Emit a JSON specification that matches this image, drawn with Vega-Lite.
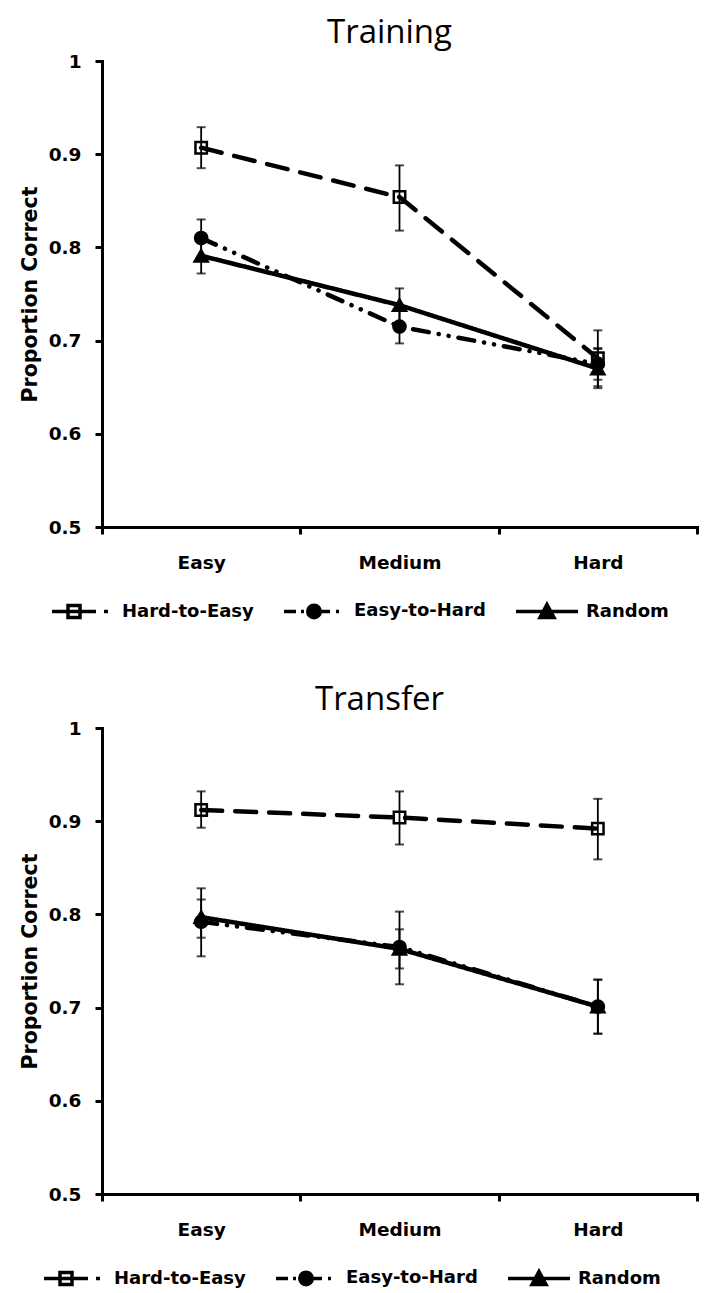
{
  "$schema": "https://vega.github.io/schema/vega-lite/v6.json",
  "background": "white",
  "padding": {"left": 20, "top": 17, "right": 5, "bottom": 2},
  "datasets": {
    "training": [
      {"series": "Hard-to-Easy", "cond": "Easy", "mean": 0.907, "lo": 0.885, "hi": 0.929},
      {"series": "Hard-to-Easy", "cond": "Medium", "mean": 0.854, "lo": 0.818, "hi": 0.888},
      {"series": "Hard-to-Easy", "cond": "Hard", "mean": 0.681, "lo": 0.651, "hi": 0.711},
      {"series": "Easy-to-Hard", "cond": "Easy", "mean": 0.81, "lo": 0.79, "hi": 0.83},
      {"series": "Easy-to-Hard", "cond": "Medium", "mean": 0.715, "lo": 0.697, "hi": 0.733},
      {"series": "Easy-to-Hard", "cond": "Hard", "mean": 0.675, "lo": 0.658, "hi": 0.692},
      {"series": "Random", "cond": "Easy", "mean": 0.791, "lo": 0.772, "hi": 0.81},
      {"series": "Random", "cond": "Medium", "mean": 0.738, "lo": 0.72, "hi": 0.756},
      {"series": "Random", "cond": "Hard", "mean": 0.67, "lo": 0.649, "hi": 0.691}
    ],
    "transfer": [
      {"series": "Hard-to-Easy", "cond": "Easy", "mean": 0.912, "lo": 0.893, "hi": 0.932},
      {"series": "Hard-to-Easy", "cond": "Medium", "mean": 0.904, "lo": 0.875, "hi": 0.932},
      {"series": "Hard-to-Easy", "cond": "Hard", "mean": 0.892, "lo": 0.859, "hi": 0.924},
      {"series": "Easy-to-Hard", "cond": "Easy", "mean": 0.792, "lo": 0.755, "hi": 0.828},
      {"series": "Easy-to-Hard", "cond": "Medium", "mean": 0.765, "lo": 0.725, "hi": 0.803},
      {"series": "Easy-to-Hard", "cond": "Hard", "mean": 0.701, "lo": 0.672, "hi": 0.73},
      {"series": "Random", "cond": "Easy", "mean": 0.797, "lo": 0.775, "hi": 0.816},
      {"series": "Random", "cond": "Medium", "mean": 0.763, "lo": 0.742, "hi": 0.784},
      {"series": "Random", "cond": "Hard", "mean": 0.701, "lo": 0.672, "hi": 0.73}
    ]
  },
  "config": {
    "view": {"stroke": null},
    "font": "DejaVu Sans",
    "axis": {
      "grid": false,
      "domainColor": "black",
      "domainWidth": 3,
      "domainCap": "square",
      "tickColor": "black",
      "tickWidth": 3,
      "tickSize": 7,
      "labelFont": "DejaVu Sans",
      "labelFontWeight": "bold",
      "labelFontSize": 18.5,
      "labelColor": "black",
      "titleFont": "DejaVu Sans",
      "titleFontWeight": "bold",
      "titleFontSize": 20.5,
      "titleColor": "black"
    },
    "title": {
      "font": "Open Sans",
      "fontSize": 33,
      "fontWeight": "normal",
      "color": "black",
      "frame": "group",
      "anchor": "middle",
      "baseline": "alphabetic",
      "offset": 2
    }
  },
  "spacing": 59,
  "resolve": {
    "scale": {"shape": "independent", "strokeDash": "independent", "fill": "independent", "size": "independent"},
    "legend": {"shape": "independent"}
  },
  "vconcat": [
    {
      "title": {"text": "Training", "dx": -10},
      "width": 595,
      "height": 466,
      "data": {"name": "training"},
      "resolve": {"scale": {"shape": "independent"}},
      "encoding": {
        "x": {"field": "cond", "type": "nominal", "sort": ["Easy", "Medium", "Hard"], "title": null,
          "scale": {"type": "band", "paddingInner": 0, "paddingOuter": 0},
          "axis": {"labelAngle": 0, "tickBand": "extent", "labelPadding": 19}}
      },
      "layer": [
        {"mark": {"type": "rule", "color": "black", "strokeWidth": 1.8},
          "encoding": {
            "y": {"field": "lo", "type": "quantitative", "title": "Proportion Correct", "scale": {"domain": [0.5, 1], "nice": false, "zero": false}, "axis": {"values": [0.5, 0.6, 0.7, 0.8, 0.9, 1], "format": ".1~f", "titlePadding": 8, "labelPadding": 14}},
            "y2": {"field": "hi"}}},
        {"mark": {"type": "tick", "color": "black", "thickness": 2, "size": 9},
          "encoding": {"y": {"field": "lo", "type": "quantitative", "title": "Proportion Correct"}}},
        {"mark": {"type": "tick", "color": "black", "thickness": 2, "size": 9},
          "encoding": {"y": {"field": "hi", "type": "quantitative", "title": "Proportion Correct"}}},
        {"mark": {"type": "line", "color": "black", "strokeWidth": 4.5, "strokeCap": "round", "strokeJoin": "round"},
          "encoding": {
            "y": {"field": "mean", "type": "quantitative", "title": "Proportion Correct"},
            "strokeDash": {"field": "series", "type": "nominal", "legend": null,
              "scale": {"domain": ["Hard-to-Easy", "Easy-to-Hard", "Random"], "range": [[21, 13], [16, 10, 0.1, 10, 0.1, 10], [1, 0]]}}}},
        {"mark": {"type": "point", "filled": true, "stroke": "black", "strokeWidth": 2.5, "opacity": 1},
          "encoding": {
            "y": {"field": "mean", "type": "quantitative", "title": "Proportion Correct"},
            "shape": {"field": "series", "type": "nominal", "legend": null,
              "scale": {"domain": ["Hard-to-Easy", "Easy-to-Hard", "Random"], "range": ["square", "circle", "triangle-up"]}},
            "fill": {"field": "series", "type": "nominal", "legend": null,
              "scale": {"domain": ["Hard-to-Easy", "Easy-to-Hard", "Random"], "range": ["transparent", "black", "black"]}},
            "size": {"field": "series", "type": "ordinal", "legend": null,
              "scale": {"domain": ["Hard-to-Easy", "Easy-to-Hard", "Random"], "range": [130, 170, 240]}}}},
        {"mark": {"type": "point", "color": "black", "opacity": 0},
          "encoding": {
            "y": {"field": "mean", "type": "quantitative", "title": "Proportion Correct"},
            "shape": {"field": "series", "type": "nominal",
              "scale": {"domain": ["Hard-to-Easy", "Easy-to-Hard", "Random"], "range": [
                "M-1,0L7.8,0M2.2,-1.2L4.6,-1.2L4.6,1.2L2.2,1.2ZM9.4,0L10.2,0",
                "M-1,0L1.4,0M2.4,0L3,0M5,0L8.2,0M9.4,0L10,0M6.25,0C6.25,0.69 5.69,1.25 5,1.25C4.31,1.25 3.75,0.69 3.75,0C3.75,-0.69 4.31,-1.25 5,-1.25C5.69,-1.25 6.25,-0.69 6.25,0ZM5.75,0C5.75,0.414 5.414,0.75 5,0.75C4.586,0.75 4.25,0.414 4.25,0C4.25,-0.414 4.586,-0.75 5,-0.75C5.414,-0.75 5.75,-0.414 5.75,0ZM5.3,0C5.3,0.166 5.166,0.3 5,0.3C4.834,0.3 4.7,0.166 4.7,0C4.7,-0.166 4.834,-0.3 5,-0.3C5.166,-0.3 5.3,-0.166 5.3,0Z",
                "M-1,0L11.4,0M5.2,-1.4L6.6,1.2L3.8,1.2ZM5.2,-0.707L6.04,0.853L4.36,0.853ZM5.2,-0.1L5.55,0.55L4.85,0.55Z"]},
              "legend": {
                "orient": "none", "legendX": -54, "legendY": 541, "direction": "horizontal", "title": null,
                "labelFont": "DejaVu Sans", "labelFontWeight": "bold", "labelFontSize": 18, "labelColor": "black",
                "symbolSize": 100, "symbolStrokeWidth": 3.5, "symbolStrokeColor": "black", "symbolOpacity": 1,
                "labelOffset": 56, "columnPadding": 23,
                "encode": {"symbols": {
                  "stroke": {"value": "black"},
                  "strokeWidth": {"value": 3.5},
                  "opacity": {"value": 1}}}
              }}}}
      ]
    },
    {
      "title": {"text": "Transfer", "dx": -20},
      "width": 595,
      "height": 466,
      "data": {"name": "transfer"},
      "resolve": {"scale": {"shape": "independent"}},
      "encoding": {
        "x": {"field": "cond", "type": "nominal", "sort": ["Easy", "Medium", "Hard"], "title": null,
          "scale": {"type": "band", "paddingInner": 0, "paddingOuter": 0},
          "axis": {"labelAngle": 0, "tickBand": "extent", "labelPadding": 19}}
      },
      "layer": [
        {"mark": {"type": "rule", "color": "black", "strokeWidth": 1.8},
          "encoding": {
            "y": {"field": "lo", "type": "quantitative", "title": "Proportion Correct", "scale": {"domain": [0.5, 1], "nice": false, "zero": false}, "axis": {"values": [0.5, 0.6, 0.7, 0.8, 0.9, 1], "format": ".1~f", "titlePadding": 8, "labelPadding": 14}},
            "y2": {"field": "hi"}}},
        {"mark": {"type": "tick", "color": "black", "thickness": 2, "size": 9},
          "encoding": {"y": {"field": "lo", "type": "quantitative", "title": "Proportion Correct"}}},
        {"mark": {"type": "tick", "color": "black", "thickness": 2, "size": 9},
          "encoding": {"y": {"field": "hi", "type": "quantitative", "title": "Proportion Correct"}}},
        {"mark": {"type": "line", "color": "black", "strokeWidth": 4.5, "strokeCap": "round", "strokeJoin": "round"},
          "encoding": {
            "y": {"field": "mean", "type": "quantitative", "title": "Proportion Correct"},
            "strokeDash": {"field": "series", "type": "nominal", "legend": null,
              "scale": {"domain": ["Hard-to-Easy", "Easy-to-Hard", "Random"], "range": [[21, 13], [16, 10, 0.1, 10, 0.1, 10], [1, 0]]}}}},
        {"mark": {"type": "point", "filled": true, "stroke": "black", "strokeWidth": 2.5, "opacity": 1},
          "encoding": {
            "y": {"field": "mean", "type": "quantitative", "title": "Proportion Correct"},
            "shape": {"field": "series", "type": "nominal", "legend": null,
              "scale": {"domain": ["Hard-to-Easy", "Easy-to-Hard", "Random"], "range": ["square", "circle", "triangle-up"]}},
            "fill": {"field": "series", "type": "nominal", "legend": null,
              "scale": {"domain": ["Hard-to-Easy", "Easy-to-Hard", "Random"], "range": ["transparent", "black", "black"]}},
            "size": {"field": "series", "type": "ordinal", "legend": null,
              "scale": {"domain": ["Hard-to-Easy", "Easy-to-Hard", "Random"], "range": [130, 170, 240]}}}},
        {"mark": {"type": "point", "color": "black", "opacity": 0},
          "encoding": {
            "y": {"field": "mean", "type": "quantitative", "title": "Proportion Correct"},
            "shape": {"field": "series", "type": "nominal",
              "scale": {"domain": ["Hard-to-Easy", "Easy-to-Hard", "Random"], "range": [
                "M-1,0L7.8,0M2.2,-1.2L4.6,-1.2L4.6,1.2L2.2,1.2ZM9.4,0L10.2,0",
                "M-1,0L1.4,0M2.4,0L3,0M5,0L8.2,0M9.4,0L10,0M6.25,0C6.25,0.69 5.69,1.25 5,1.25C4.31,1.25 3.75,0.69 3.75,0C3.75,-0.69 4.31,-1.25 5,-1.25C5.69,-1.25 6.25,-0.69 6.25,0ZM5.75,0C5.75,0.414 5.414,0.75 5,0.75C4.586,0.75 4.25,0.414 4.25,0C4.25,-0.414 4.586,-0.75 5,-0.75C5.414,-0.75 5.75,-0.414 5.75,0ZM5.3,0C5.3,0.166 5.166,0.3 5,0.3C4.834,0.3 4.7,0.166 4.7,0C4.7,-0.166 4.834,-0.3 5,-0.3C5.166,-0.3 5.3,-0.166 5.3,0Z",
                "M-1,0L11.4,0M5.2,-1.4L6.6,1.2L3.8,1.2ZM5.2,-0.707L6.04,0.853L4.36,0.853ZM5.2,-0.1L5.55,0.55L4.85,0.55Z"]},
              "legend": {
                "orient": "none", "legendX": -62, "legendY": 541, "direction": "horizontal", "title": null,
                "labelFont": "DejaVu Sans", "labelFontWeight": "bold", "labelFontSize": 18, "labelColor": "black",
                "symbolSize": 100, "symbolStrokeWidth": 3.5, "symbolStrokeColor": "black", "symbolOpacity": 1,
                "labelOffset": 56, "columnPadding": 23,
                "encode": {"symbols": {
                  "stroke": {"value": "black"},
                  "strokeWidth": {"value": 3.5},
                  "opacity": {"value": 1}}}
              }}}}
      ]
    }
  ]
}
